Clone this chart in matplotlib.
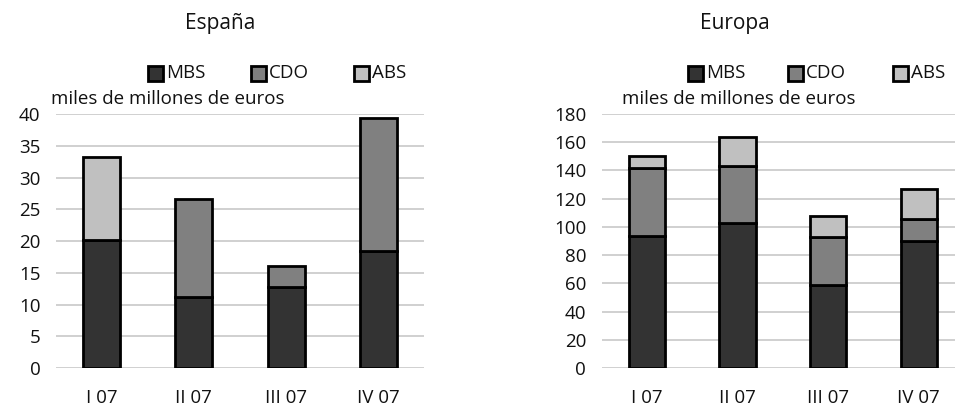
import matplotlib
matplotlib.use("Agg")
import matplotlib.pyplot as plt
import numpy as np

plt.rcParams['font.family'] = ['Open Sans', 'DejaVu Sans']

quarters = ["I 07", "II 07", "III 07", "IV 07"]
series = ["MBS", "CDO", "ABS"]
colors = ["#333333", "#808080", "#c0c0c0"]

# España (miles de millones de euros)
es_mbs = [20.1, 11.2, 12.8, 18.4]
es_cdo = [0.0, 15.4, 3.3, 21.0]
es_abs = [13.2, 0.0, 0.0, 0.0]

# Europa
eu_mbs = [93.5, 102.8, 58.8, 90.0]
eu_cdo = [48.0, 40.6, 34.0, 15.6]
eu_abs = [9.0, 20.6, 15.2, 21.3]

W, H = 955, 412
FS = 13.5
TXT = "#111111"
fig = plt.figure(figsize=(W / 100, H / 100), dpi=100)

def draw(ax, data, ymax, step, xlim_right):
    x = np.arange(len(quarters))
    bottom = np.zeros(len(quarters))
    for vals, col in zip(data, colors):
        vals = np.array(vals)
        mask = vals > 0
        ax.bar(x[mask], vals[mask], bottom=bottom[mask], width=0.4, color=col,
               edgecolor="black", linewidth=2.0, zorder=3)
        bottom += vals
    ax.set_xlim(-0.5, xlim_right)
    ax.set_ylim(0, ymax)
    ax.set_yticks(np.arange(0, ymax + step / 2, step))
    ax.set_xticks(x)
    ax.set_xticklabels(quarters)
    ax.yaxis.grid(True, color="#c8c8c8", linewidth=1.2, zorder=0)
    ax.set_axisbelow(True)
    for s in ax.spines.values():
        s.set_visible(False)
    ax.tick_params(length=0, labelsize=FS, colors=TXT)
    ax.tick_params(axis="x", pad=15)
    ax.tick_params(axis="y", pad=11)

def legend(x0s, y):
    for xs, lab, col in zip(x0s, series, colors):
        fig.patches.append(plt.Rectangle((xs / W, 1 - (y + 7.5) / H), 15 / W, 15 / H,
                                         transform=fig.transFigure, facecolor=col,
                                         edgecolor="black", linewidth=2.0))
        fig.text((xs + 18) / W, 1 - y / H, lab, fontsize=FS, va="center",
                 ha="left", color=TXT)

axL = fig.add_axes([55.6 / W, 1 - 368 / H, (424.4 - 55.6) / W, (368 - 114) / H])
draw(axL, [es_mbs, es_cdo, es_abs], 40, 5, 3.5)
axR = fig.add_axes([601.5 / W, 1 - 368 / H, (955 - 601.5) / W, (368 - 114) / H])
draw(axR, [eu_mbs, eu_cdo, eu_abs], 180, 20, 3.4)

fig.text(220 / W, 1 - 24 / H, "España", fontsize=15, ha="center", va="center", color=TXT)
fig.text(735 / W, 1 - 24 / H, "Europa", fontsize=15, ha="center", va="center", color=TXT)
legend([148, 251, 354], 73)
legend([688, 788, 893], 73)
fig.text(51 / W, 1 - 99 / H, "miles de millones de euros", fontsize=FS, va="center", ha="left", color=TXT)
fig.text(622 / W, 1 - 99 / H, "miles de millones de euros", fontsize=FS, va="center", ha="left", color=TXT)

fig.savefig("out.png", dpi=100)
